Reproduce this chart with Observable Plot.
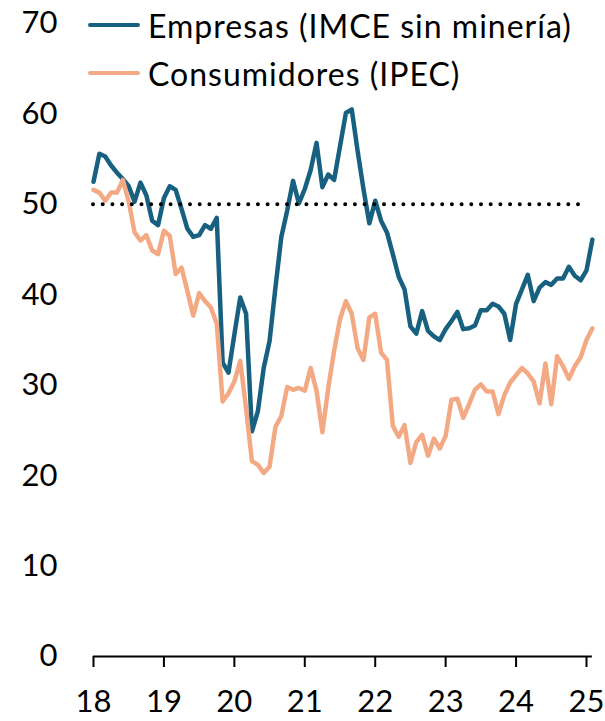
<!DOCTYPE html>
<html>
<head>
<meta charset="utf-8">
<script src="https://cdn.jsdelivr.net/npm/d3@7"></script>
<script src="https://cdn.jsdelivr.net/npm/@observablehq/plot@0.6"></script>
<style>
  html, body { margin: 0; padding: 0; background: #fff; }
  #wrap { position: relative; width: 605px; height: 721px; font-family: Lato, "Open Sans", sans-serif; }
  #legend { position: absolute; left: 88px; top: 1px; font-size: 32px; letter-spacing: 1px; color: #000; }
  .item { display: flex; align-items: center; height: 48px; }
  .sw { display: inline-block; width: 52px; height: 4px; border-radius: 2px; margin-right: 8px; }
</style>
</head>
<body>
<div id="wrap"></div>
<script>
// Monthly series, starting January 2018
const startYear = 2018;
const seriesNames = ["Empresas (IMCE sin minería)", "Consumidores (IPEC)"];
const seriesColors = ["#176080", "#f3aa84"];
const empresas = [
  52.5, 55.6, 55.3, 54.3, 53.5, 52.8, 52.0, 50.3, 52.4, 51.0, 48.2, 47.7,
  50.7, 52.0, 51.6, 49.5, 47.3, 46.4, 46.6, 47.7, 47.3, 48.5, 32.5, 31.4,
  35.6, 39.7, 37.9, 24.9, 27.1, 31.9, 34.9, 40.8, 46.4, 49.3, 52.6, 50.1,
  51.7, 53.8, 56.8, 51.9, 53.3, 52.7, 56.4, 60.1, 60.5, 55.9, 51.7, 47.9,
  50.4, 48.2, 46.9, 44.5, 42.0, 40.6, 36.5, 35.7, 38.2, 36.0, 35.4, 35.0,
  36.2, 37.1, 38.1, 36.2, 36.3, 36.6, 38.3, 38.3, 39.0, 38.7, 37.9, 35.0,
  39.0, 40.6, 42.2, 39.3, 40.8, 41.4, 41.1, 41.8, 41.8, 43.1, 42.1, 41.6,
  42.7, 46.1
];
const consumidores = [
  51.6, 51.3, 50.4, 51.3, 51.3, 52.7, 50.3, 46.9, 46.0, 46.6, 44.9, 44.5,
  47.1, 46.5, 42.3, 43.0, 40.4, 37.7, 40.2, 39.3, 38.6, 36.8, 28.2, 29.1,
  30.4, 32.7, 27.4, 21.6, 21.2, 20.3, 21.0, 25.4, 26.6, 29.8, 29.5, 29.7,
  29.4, 31.9, 29.4, 24.8, 29.7, 33.8, 37.3, 39.3, 37.9, 34.1, 32.8, 37.5,
  37.9, 33.6, 32.8, 25.5, 24.3, 25.6, 21.4, 23.7, 24.5, 22.2, 24.1, 23.0,
  24.4, 28.4, 28.5, 26.4, 27.9, 29.5, 30.1, 29.3, 29.3, 26.8, 28.9, 30.3,
  31.1, 31.9, 31.3, 30.4, 28.0, 32.4, 27.9, 33.2, 32.1, 30.7, 32.1, 33.1,
  35.0, 36.3
];
const xTicks = [2018, 2019, 2020, 2021, 2022, 2023, 2024, 2025];
const yTicks = [0, 10, 20, 30, 40, 50, 60, 70];
const neutral = 50;

const rowsE = empresas.map((v, i) => ({t: startYear + i / 12, v}));
const rowsC = consumidores.map((v, i) => ({t: startYear + i / 12, v}));
const tFirst = rowsE[0].t, tLast = rowsE[rowsE.length - 1].t;

const chart = Plot.plot({
  width: 605,
  height: 721,
  marginLeft: 93,
  marginRight: 19,
  marginTop: 23,
  marginBottom: 65,
  style: {fontFamily: "Lato, 'Open Sans', sans-serif", fontSize: "31px", color: "#000", background: "#fff"},
  x: {domain: [2018, 2025]},
  y: {domain: [0, 70]},
  marks: [
    Plot.axisY({ticks: yTicks, tickSize: 0, tickPadding: 36, label: null, fill: "#000"}),
    Plot.axisX({ticks: xTicks, tickFormat: d => String(d).slice(2), tickSize: 11, tickPadding: 22, strokeWidth: 2, label: null, fill: "#000"}),
    Plot.ruleY([0], {x1: tFirst, x2: tLast, stroke: "#000", strokeWidth: 2}),
    Plot.lineY(rowsE, {x: "t", y: "v", stroke: seriesColors[0], strokeWidth: 4.5, strokeLinejoin: "round", strokeLinecap: "round"}),
    Plot.lineY(rowsC, {x: "t", y: "v", stroke: seriesColors[1], strokeWidth: 4.5, strokeLinejoin: "round", strokeLinecap: "round"}),
    Plot.ruleY([neutral], {stroke: "#000", strokeWidth: 4, strokeDasharray: "0 9.7", strokeLinecap: "round"})
  ]
});

const wrap = document.getElementById("wrap");
wrap.appendChild(chart);
const legend = document.createElement("div");
legend.id = "legend";
seriesNames.forEach((name, i) => {
  const item = document.createElement("div");
  item.className = "item";
  const sw = document.createElement("span");
  sw.className = "sw";
  sw.style.background = seriesColors[i];
  const label = document.createElement("span");
  label.textContent = name;
  item.appendChild(sw);
  item.appendChild(label);
  legend.appendChild(item);
});
wrap.appendChild(legend);
</script>
</body>
</html>
